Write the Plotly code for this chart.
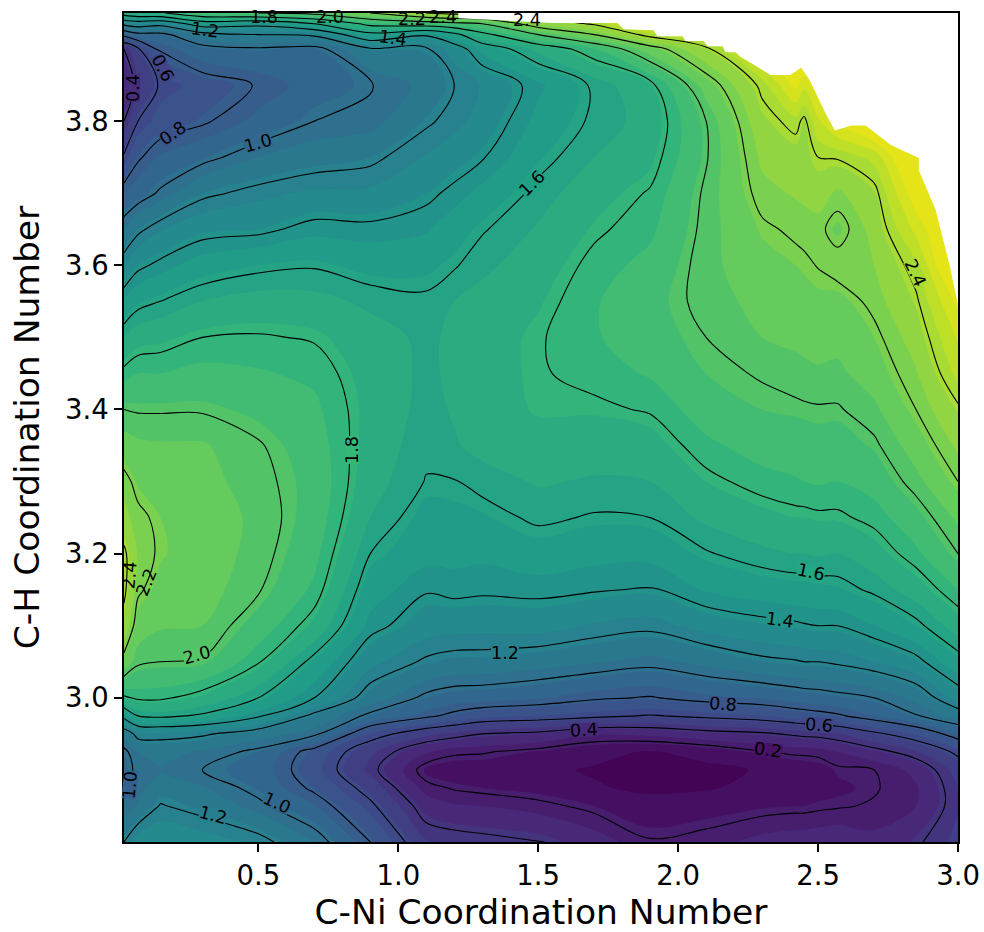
import plotly.graph_objects as go
import numpy as np

x_values = [0.02,0.07,0.15,0.3,0.5,0.7,0.9,1.1,1.2,1.3,1.5,1.7,1.9,2.1,2.3,2.42,2.45,2.5,2.57,2.7,2.85,3.0]
y_values = [2.80,2.85,2.875,2.90,2.925,2.95,2.975,3.00,3.05,3.10,3.15,3.20,3.25,3.30,3.35,3.40,3.45,3.50,3.55,3.60,3.65,3.70,3.75,3.80,3.85,3.90,3.92,3.935,3.95]

# one list per x value, bottom row first
z_columns = [
 [1.2,1.02,.97,.95,.97,1.1,1.45,1.78,2.15,2.35,2.43,2.43,2.3,2.24,2.12,2.0,1.83,1.67,1.48,1.27,1.07,.87,.62,.4,.28,.4,.85,1.25,1.7],
 [1.32,1.08,1.04,1.03,1.07,1.25,1.6,1.82,2.02,2.13,2.22,2.26,2.23,2.16,2.09,1.99,1.87,1.73,1.56,1.37,1.17,.93,.78,.6,.45,.58,.95,1.3,1.75],
 [1.35,1.21,1.13,1.07,1.1,1.25,1.63,1.82,2.0,2.08,2.14,2.18,2.17,2.13,2.08,1.99,1.87,1.75,1.6,1.43,1.26,1.02,.88,.72,.62,.82,.96,1.25,1.78],
 [1.32,1.15,1.08,1.0,1.06,1.22,1.58,1.75,1.99,2.07,2.11,2.12,2.12,2.1,2.08,1.99,1.9,1.8,1.67,1.52,1.35,1.17,.96,.78,.72,.95,1.13,1.5,1.95],
 [1.25,1.03,.96,.93,.97,1.12,1.42,1.6,1.81,1.93,2.01,2.04,2.05,2.03,2.01,1.95,1.88,1.81,1.71,1.57,1.37,1.24,1.07,.9,.81,.98,1.2,1.45,2.0],
 [1.07,.88,.77,.71,.74,1.03,1.16,1.4,1.56,1.75,1.85,1.9,1.93,1.94,1.92,1.89,1.85,1.79,1.7,1.59,1.44,1.29,1.13,1.0,.92,.95,1.23,1.6,2.05],
 [.8,.63,.54,.44,.49,.67,.97,1.13,1.3,1.44,1.52,1.6,1.67,1.71,1.73,1.74,1.73,1.71,1.65,1.54,1.43,1.29,1.17,1.03,.99,1.18,1.55,1.85,2.2],
 [.48,.33,.23,.15,.28,.5,.83,.97,1.18,1.32,1.41,1.5,1.54,1.595,1.62,1.64,1.65,1.65,1.62,1.55,1.46,1.37,1.28,1.18,1.1,1.18,1.42,1.9,2.4],
 [.46,.28,.19,.12,.22,.45,.76,.93,1.15,1.31,1.43,1.5,1.55,1.595,1.66,1.68,1.69,1.69,1.67,1.59,1.53,1.43,1.33,1.24,1.2,1.32,1.55,1.95,2.45],
 [.44,.27,.17,.12,.21,.4,.7,.92,1.15,1.3,1.42,1.49,1.56,1.63,1.7,1.72,1.72,1.72,1.7,1.65,1.59,1.5,1.39,1.31,1.28,1.5,1.75,2.0,2.45],
 [.41,.23,.14,.09,.16,.37,.67,.88,1.12,1.31,1.43,1.53,1.62,1.68,1.73,1.78,1.79,1.79,1.76,1.72,1.68,1.63,1.56,1.5,1.45,1.7,2.0,2.3,2.5],
 [.32,.17,.08,.06,.1,.28,.63,.82,1.08,1.26,1.41,1.5,1.59,1.66,1.72,1.78,1.83,1.86,1.86,1.83,1.78,1.73,1.67,1.62,1.62,1.87,2.2,2.42,2.6],
 [.21,.11,.05,.03,.06,.3,.59,.79,1.04,1.23,1.39,1.5,1.6,1.67,1.73,1.81,1.88,1.93,1.94,1.9,1.85,1.81,1.75,1.71,1.76,2.13,2.45,2.7,2.8],
 [.24,.13,.06,.04,.11,.35,.63,.85,1.1,1.31,1.48,1.59,1.69,1.77,1.85,1.92,1.97,2.0,2.03,2.04,2.03,2.02,1.99,2.0,2.12,2.37,2.6,2.7,2.8],
 [.3,.16,.1,.08,.19,.38,.67,.88,1.17,1.36,1.52,1.65,1.74,1.84,1.91,1.97,2.01,2.07,2.1,2.14,2.18,2.24,2.29,2.35,2.43,2.7,2.8,2.8,2.8],
 [.32,.17,.13,.11,.22,.42,.72,.92,1.19,1.38,1.54,1.67,1.77,1.86,1.93,1.98,2.04,2.09,2.13,2.17,2.22,2.28,2.33,2.44,2.7,2.9,2.9,2.9,2.9],
 [.32,.17,.13,.12,.22,.43,.73,.93,1.2,1.39,1.54,1.67,1.77,1.87,1.93,1.985,2.05,2.095,2.14,2.18,2.23,2.29,2.34,2.37,2.6,2.9,2.9,2.9,2.9],
 [.33,.18,.14,.13,.23,.44,.75,.94,1.2,1.4,1.55,1.68,1.78,1.88,1.94,1.99,2.06,2.1,2.15,2.205,2.23,2.32,2.4,2.55,2.75,2.9,2.9,2.9,2.9],
 [.34,.19,.15,.18,.27,.47,.78,.96,1.22,1.4,1.56,1.67,1.78,1.87,1.93,1.99,2.05,2.1,2.14,2.25,2.15,2.25,2.41,2.7,2.9,2.9,2.9,2.9,2.9],
 [.3,.21,.19,.2,.35,.57,.87,1.0,1.27,1.47,1.62,1.73,1.83,1.91,1.98,2.05,2.12,2.17,2.23,2.27,2.31,2.36,2.5,2.9,2.9,2.9,2.9,2.9,2.9],
 [.38,.27,.26,.3,.46,.68,.99,1.1,1.36,1.57,1.72,1.85,1.94,2.04,2.12,2.2,2.26,2.32,2.38,2.45,2.6,2.75,2.9,2.9,2.9,2.9,2.9,2.9,2.9],
 [.5,.46,.47,.52,.63,.87,1.12,1.32,1.55,1.72,1.87,2.0,2.09,2.2,2.29,2.38,2.5,2.58,2.7,2.9,2.9,2.9,2.9,2.9,2.9,2.9,2.9,2.9,2.9],
]

# outline of the region with no data (top right)
empty_x = [1.2146,1.2146,1.554,1.783,1.805,1.912,1.926,2.016,2.026,2.091,2.105,2.159,2.169,2.205,2.223,2.241,2.33,2.40,2.44,2.47,2.53,2.56,2.62,2.67,2.76,2.86,2.86,2.92,2.97,3.0,3.0]
empty_y = [3.95,3.9428,3.936,3.936,3.9276,3.9262,3.9179,3.9179,3.911,3.911,3.904,3.904,3.8957,3.8957,3.8888,3.885,3.864,3.864,3.874,3.857,3.808,3.787,3.794,3.794,3.767,3.749,3.732,3.677,3.60,3.545,3.95]

# contour labels: text, position on the axes, angle, local fill colour
label_text = ["0.4","0.6","0.8","1.0","1.2","1.4","1.8","2.0","2.2","2.4","2.4","1.6","2.4","1.8","2.0","2.2","2.4","1.6","1.4","1.2","0.8","0.6","0.4","0.2","1.0","1.2","1.0"]
label_x = [.052,.159,.195,.499,.31,.982,.521,.757,1.05,1.16,1.461,1.479,2.849,.835,.281,.102,.041,2.474,2.363,1.383,2.162,2.502,1.665,2.32,.567,.338,.041]
label_y = [3.846,3.874,3.783,3.77,3.926,3.915,3.944,3.944,3.941,3.945,3.94,3.714,3.59,3.344,3.059,3.16,3.17,3.174,3.108,3.062,2.991,2.962,2.955,2.928,2.854,2.837,2.879]
label_angle = [-90,62,-35,-15,8,8,0,0,0,0,0,-45,65,-90,-15,-68,-85,12,8,0,4,4,-3,8,25,15,-85]
label_bg = ["#472d7b","#414487","#3b528b","#31688e",None,None,None,None,None,None,None,"#1fa187","#a5db36","#35b779","#56c667",None,None,"#22a884","#1f968b","#277f8e","#3a548c","#414487","#482878","#471365","#31688e","#287d8e","#35608d"]

x_ticks = [0.5,1.0,1.5,2.0,2.5,3.0]
y_ticks = [3.0,3.2,3.4,3.6,3.8]

fill_colors = [[0,"#440154"],[.1145,"#482878"],[.229,"#3e4989"],[.344,"#31688e"],[.458,"#26828e"],[.573,"#1f9e89"],[.688,"#35b779"],[.802,"#6ece58"],[.917,"#b5de2b"],[1,"#e5e419"]]

z = np.array(z_columns).T

fig = go.Figure()
fig.add_trace(go.Contour(
    x=x_values, y=y_values, z=z, colorscale=fill_colors, zmin=0, zmax=2.85, showscale=False,
    autocontour=False,
    contours=dict(start=-0.03, end=2.77, size=0.1, coloring="fill", showlines=False),
    line=dict(width=0, smoothing=1.0), hoverinfo="skip"))
fig.add_trace(go.Contour(
    x=x_values, y=y_values, z=z, showscale=False, autocontour=False,
    contours=dict(start=0.2, end=2.4, size=0.2, coloring="none", showlines=True, showlabels=False),
    line=dict(width=1.1, color="black", smoothing=1.0), hoverinfo="skip"))
fig.add_trace(go.Scatter(x=empty_x, y=empty_y, mode="lines", fill="toself", fillcolor="white",
                         line=dict(width=0, color="white"), hoverinfo="skip", showlegend=False))

for text, lx, ly, angle, bg in zip(label_text, label_x, label_y, label_angle, label_bg):
    fig.add_annotation(x=lx, y=ly, text=text, textangle=angle, showarrow=False, height=14,
                       font=dict(size=17.5, color="black", family="DejaVu Sans"),
                       bgcolor=bg if bg else "rgba(0,0,0,0)", borderpad=0, borderwidth=0)

axis_common = dict(showgrid=False, zeroline=False, showline=True, mirror=True, linecolor="black", linewidth=1.5,
                   ticks="outside", ticklen=8, tickwidth=1.5, tickcolor="black", automargin=False,
                   tickfont=dict(size=27.5, family="DejaVu Sans", color="black"))
fig.update_layout(
    width=984, height=932, margin=dict(l=124, r=26, t=13, b=90),
    paper_bgcolor="white", plot_bgcolor="white", showlegend=False,
    xaxis=dict(range=[0.02,3.0], tickvals=x_ticks, ticktext=[f"{t:.1f}" for t in x_ticks],
               title=dict(text="C-Ni Coordination Number", font=dict(size=34.5, family="DejaVu Sans", color="black")), **axis_common),
    yaxis=dict(range=[2.8,3.95], tickvals=y_ticks, ticktext=[f"{t:.1f}" for t in y_ticks],
               title=dict(text="C-H Coordination Number", font=dict(size=34.5, family="DejaVu Sans", color="black")), **axis_common),
)
fig.write_html("out.html", config={"displayModeBar": False},
               post_script="document.body.style.margin='0';document.documentElement.style.overflow='hidden';")
